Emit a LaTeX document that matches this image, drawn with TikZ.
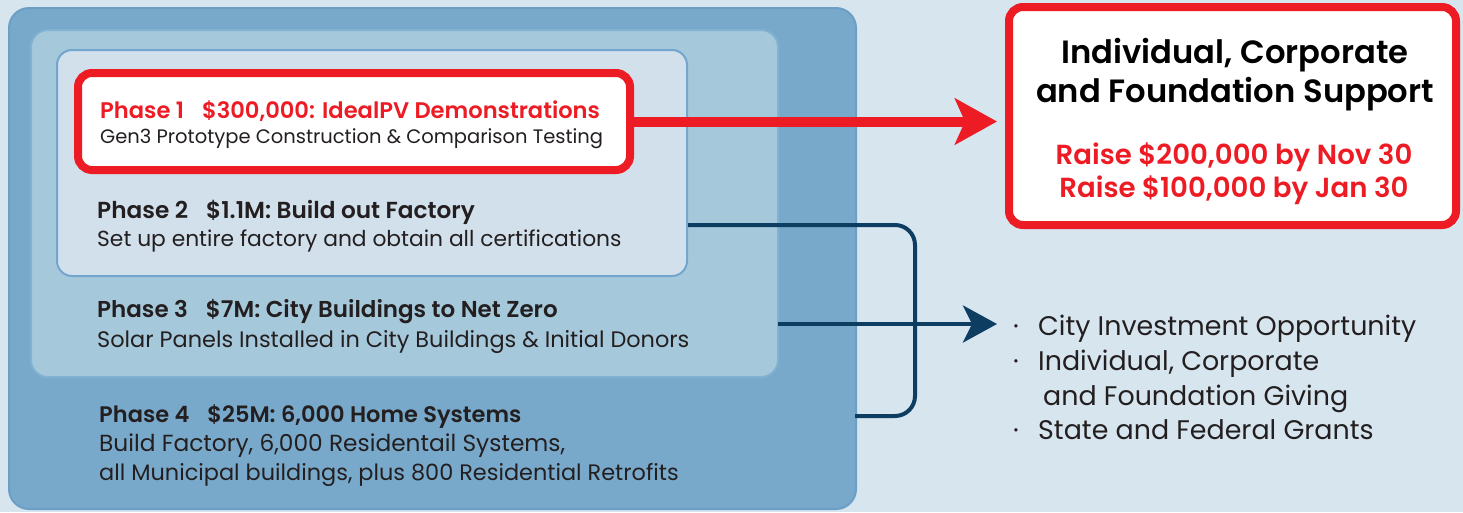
\documentclass[tikz,border=0pt]{standalone}
\usepackage{fontspec}
\setmainfont{Poppins}[BoldFont={Poppins SemiBold}]
\usetikzlibrary{arrows.meta}
\definecolor{bgc}{HTML}{D7E5EF}
\definecolor{outerf}{HTML}{79A9CA}
\definecolor{outerd}{HTML}{6C9FC6}
\definecolor{midf}{HTML}{A6C8DB}
\definecolor{midd}{HTML}{82B2D2}
\definecolor{innf}{HTML}{D2E0EB}
\definecolor{innd}{HTML}{72A6CE}
\definecolor{redc}{HTML}{ED1C24}
\definecolor{navy}{HTML}{0E3D62}
\definecolor{txt}{HTML}{231F20}
\newcommand{\fs}[1]{\fontsize{#1}{#1}\selectfont}
\tikzset{
  layerbox/.style={rectangle, inner sep=0pt, outer sep=0pt},
  redbox/.style={rectangle, draw=redc, line width=8pt, fill=white, rounded corners=14pt, inner sep=0pt, outer sep=0pt},
  head/.style={anchor=base west, inner sep=0pt, text=txt, font=\bfseries},
  sub/.style={anchor=base west, inner sep=0pt, text=txt},
  bul/.style={anchor=base west, inner sep=0pt, text=txt, font=\fs{26.9}},
}
\begin{document}
\begin{tikzpicture}[x=1pt,y=-1pt]
\useasboundingbox (0,0) rectangle (1463,512);
\fill[bgc] (0,0) rectangle (1463,512);
% layered boxes
\node[layerbox, draw=outerd, line width=2pt, fill=outerf, rounded corners=20pt, minimum width=847pt, minimum height=501pt] (outer) at (432.5,258.5) {};
\node[layerbox, draw=midd, line width=2pt, fill=midf, rounded corners=17pt, minimum width=747pt, minimum height=347pt] (middle) at (404.5,203.5) {};
\node[layerbox, draw=innd, line width=2pt, fill=innf, rounded corners=15pt, minimum width=630pt, minimum height=226pt] (inner) at (372,163) {};
\node[redbox, minimum width=552pt, minimum height=97pt] (p1box) at (354,121.5) {};
% phase texts
\node[head, text=redc] (p1h) at (100,118) {\fs{22.6}Phase 1\hspace{18pt}\$300,000: IdealPV Demonstrations};
\node[sub] (p1s) at (100,143) {\fs{19.5}Gen3 Prototype Construction \& Comparison Testing};
\node[head] (p2h) at (97,218) {\fs{23.2}Phase 2\hspace{18pt}\$1.1M: Build out Factory};
\node[sub] (p2s) at (97,246) {\fs{21.8}Set up entire factory and obtain all certifications};
\node[head] (p3h) at (97,317) {\fs{23}Phase 3\hspace{18pt}\$7M: City Buildings to Net Zero};
\node[sub] (p3s) at (97,347) {\fs{22.4}Solar Panels Installed in City Buildings \& Initial Donors};
\node[head] (p4h) at (99,422) {\fs{22.5}Phase 4\hspace{18pt}\$25M: 6,000 Home Systems};
\node[sub] (p4s) at (99,451) {\fs{23.3}Build Factory, 6,000 Residentail Systems,};
\node[sub] (p4t) at (99,480) {\fs{22.4}all Municipal buildings, plus 800 Residential Retrofits};
% right red box
\node[redbox, minimum width=447pt, minimum height=218pt] (support) at (1232.5,116) {};
\node[anchor=base, inner sep=0pt, text=black, font=\bfseries\fs{32.2}] (s1) at (1235,63) {Individual, Corporate};
\node[anchor=base, inner sep=0pt, text=black, font=\bfseries\fs{32.2}] (s2) at (1235,102) {and Foundation Support};
\node[anchor=base, inner sep=0pt, text=redc, font=\bfseries\fs{27.6}] (r1) at (1234,164) {Raise \$200,000 by Nov 30};
\node[anchor=base, inner sep=0pt, text=redc, font=\bfseries\fs{27.6}] (r2) at (1234,197) {Raise \$100,000 by Jan 30};
% bullets
\node[bul] (b1) at (1013,335) {\makebox[25pt][l]{·}City Investment Opportunity};
\node[bul] (b2) at (1013,370) {\makebox[25pt][l]{·}Individual, Corporate};
\node[bul] (b3) at (1043,405) {and Foundation Giving};
\node[bul] (b4) at (1013,439) {\makebox[25pt][l]{·}State and Federal Grants};
% connectors
\coordinate (redtip) at (997,121.5);
\draw[redc, line width=10pt, -{Stealth[length=42pt,width=46pt,inset=10pt]}] (p1box.east) -- (redtip);
\coordinate (brA) at (688,225);
\coordinate (brB) at (855,416);
\draw[navy, line width=4pt, rounded corners=20pt] (brA) -- (915,225) -- (915,416) -- (brB);
\coordinate (navS) at (778,324);
\coordinate (navT) at (997,324);
\draw[navy, line width=4pt, -{Stealth[length=34pt,width=37pt,inset=9pt]}] (navS) -- (navT);
\end{tikzpicture}
\end{document}
